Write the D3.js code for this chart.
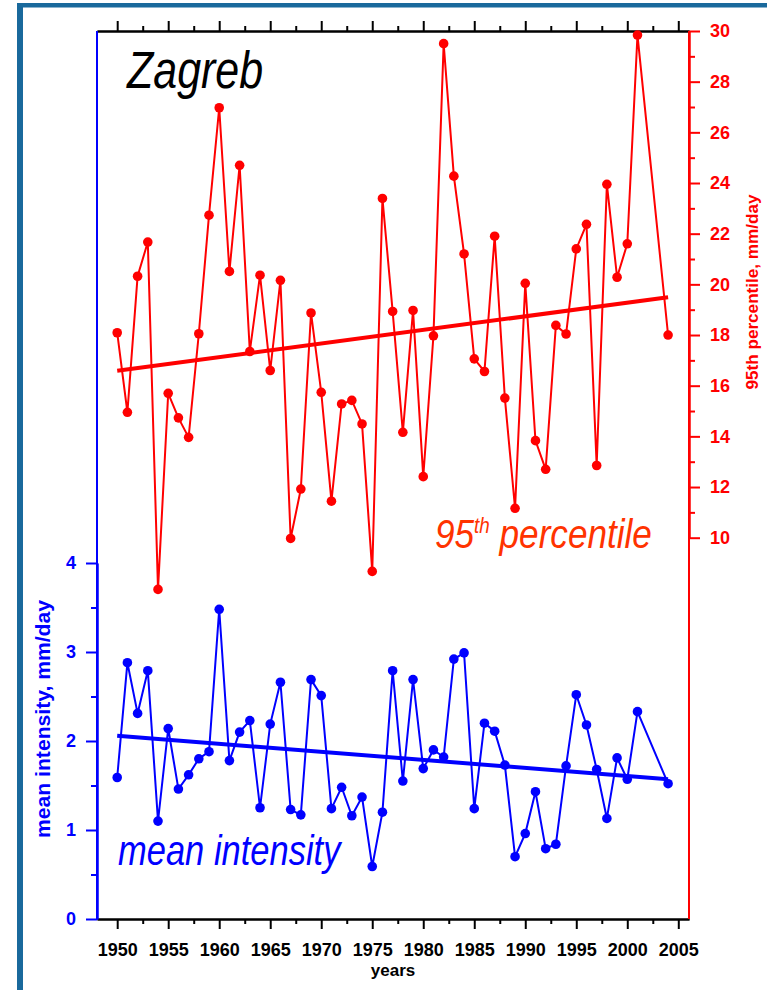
<!DOCTYPE html>
<meta charset="utf-8">
<style>
body { margin: 0; background: #fff; }
svg { display: block; font-family: "Liberation Sans", Arial, Helvetica, sans-serif; }
.tick text { font-weight: bold; font-size: 18px; }
</style>
<svg width="767" height="990"></svg>
<script src="https://d3js.org/d3.v7.min.js"></script>
<script>

// data (Zagreb, 1950-2004; 2002 and 2003 missing)
var years = [1950, 1951, 1952, 1953, 1954, 1955, 1956, 1957, 1958, 1959,
             1960, 1961, 1962, 1963, 1964, 1965, 1966, 1967, 1968, 1969,
             1970, 1971, 1972, 1973, 1974, 1975, 1976, 1977, 1978, 1979,
             1980, 1981, 1982, 1983, 1984, 1985, 1986, 1987, 1988, 1989,
             1990, 1991, 1992, 1993, 1994, 1995, 1996, 1997, 1998, 1999,
             2000, 2001, 2004];

var p95 = [18.09, 14.95, 20.32, 21.67, 7.96, 15.70, 14.73, 13.96, 18.05, 22.73,
           26.97, 20.51, 24.70, 17.35, 20.36, 16.60, 20.16, 9.97, 11.92, 18.87,
           15.74, 11.44, 15.28, 15.42, 14.49, 8.67, 23.39, 18.93, 14.16, 18.97,
           12.41, 17.97, 29.50, 24.27, 21.20, 17.06, 16.56, 21.90, 15.51, 11.16,
           20.04, 13.83, 12.70, 18.38, 18.04, 21.40, 22.37, 12.85, 23.95, 20.28,
           21.60, 29.84, 18.00];

var meanInt = [1.59, 2.88, 2.31, 2.79, 1.10, 2.14, 1.46, 1.62, 1.80, 1.88,
               3.48, 1.78, 2.10, 2.23, 1.25, 2.19, 2.66, 1.23, 1.17, 2.69,
               2.51, 1.24, 1.48, 1.16, 1.37, 0.59, 1.20, 2.79, 1.55, 2.69,
               1.69, 1.90, 1.82, 2.92, 2.99, 1.24, 2.20, 2.11, 1.73, 0.70,
               0.96, 1.43, 0.79, 0.84, 1.72, 2.52, 2.18, 1.68, 1.13, 1.81,
               1.57, 2.33, 1.52];

// linear trend end points
var trendYears = [1950, 2004];
var p95Trend = [16.59, 19.49];
var meanTrend = [2.06, 1.57];

// tick labels
var yearTicks = [1950, 1955, 1960, 1965, 1970, 1975, 1980, 1985, 1990, 1995, 2000, 2005];
var yearMinor = [1952.5, 1957.5, 1962.5, 1967.5, 1972.5, 1977.5, 1982.5, 1987.5, 1992.5, 1997.5, 2002.5];
var meanTicks = [0, 1, 2, 3, 4];
var meanMinor = [0.5, 1.5, 2.5, 3.5];
var p95Ticks = [10, 12, 14, 16, 18, 20, 22, 24, 26, 28, 30];
var p95Minor = [11, 13, 15, 17, 19, 21, 23, 25, 27, 29];

var svg = d3.select("svg"),
    plotLeft = 97, plotRight = 689, plotTop = 31, plotBottom = 919;

var blue = "#0000ff", red = "#ff0000";

// frame
svg.append("rect").attr("x", 17).attr("y", 3).attr("width", 6).attr("height", 987).attr("fill", "#19699c");
svg.append("rect").attr("x", 17).attr("y", 3).attr("width", 750).attr("height", 4.5).attr("fill", "#19699c");

var x = d3.scaleLinear().domain([1948.02, 2006.05]).range([plotLeft, plotRight]);
var yMean = d3.scaleLinear().domain([0, 4]).range([plotBottom, 563]);
var yP95 = d3.scaleLinear().domain([10, 30]).range([537.7, plotTop]);

function styleAxis(g, color) {
  g.select(".domain").attr("stroke", color).attr("stroke-width", 2);
  g.selectAll(".tick line").attr("stroke", color).attr("stroke-width", 2);
  g.selectAll(".tick text").attr("fill", color);
}

// bottom axis
var gb = svg.append("g").attr("transform", "translate(0," + plotBottom + ")")
    .call(d3.axisBottom(x).tickValues(yearTicks).tickFormat(d3.format("d")).tickSize(10).tickPadding(14).tickSizeOuter(0));
styleAxis(gb, "#000");
var gbm = svg.append("g").attr("transform", "translate(0," + plotBottom + ")")
    .call(d3.axisBottom(x).tickValues(yearMinor).tickFormat("").tickSize(5).tickSizeOuter(0));
styleAxis(gbm, "#000");

// top axis (ticks only)
var gt = svg.append("g").attr("transform", "translate(0," + plotTop + ")")
    .call(d3.axisTop(x).tickValues(yearTicks).tickFormat("").tickSize(10).tickSizeOuter(0));
styleAxis(gt, "#000");
var gtm = svg.append("g").attr("transform", "translate(0," + plotTop + ")")
    .call(d3.axisTop(x).tickValues(yearMinor).tickFormat("").tickSize(5).tickSizeOuter(0));
styleAxis(gtm, "#000");

// left axis (mean intensity), line runs full height
svg.append("line").attr("x1", plotLeft).attr("x2", plotLeft).attr("y1", plotTop).attr("y2", plotBottom)
    .attr("stroke", blue).attr("stroke-width", 2);
var gl = svg.append("g").attr("transform", "translate(" + plotLeft + ",0)")
    .call(d3.axisLeft(yMean).tickValues(meanTicks).tickFormat(d3.format("d")).tickSize(11).tickPadding(10).tickSizeOuter(0));
styleAxis(gl, blue);
var glm = svg.append("g").attr("transform", "translate(" + plotLeft + ",0)")
    .call(d3.axisLeft(yMean).tickValues(meanMinor).tickFormat("").tickSize(6).tickSizeOuter(0));
styleAxis(glm, blue);

// right axis (95th percentile), line runs full height
svg.append("line").attr("x1", plotRight).attr("x2", plotRight).attr("y1", plotTop).attr("y2", plotBottom)
    .attr("stroke", red).attr("stroke-width", 2);
var gr = svg.append("g").attr("transform", "translate(" + plotRight + ",0)")
    .call(d3.axisRight(yP95).tickValues(p95Ticks).tickFormat(d3.format("d")).tickSize(11).tickPadding(10).tickSizeOuter(0));
styleAxis(gr, red);
var grm = svg.append("g").attr("transform", "translate(" + plotRight + ",0)")
    .call(d3.axisRight(yP95).tickValues(p95Minor).tickFormat("").tickSize(6).tickSizeOuter(0));
styleAxis(grm, red);

// axis titles
svg.append("text")
    .attr("transform", "translate(43,719) rotate(-90)")
    .attr("text-anchor", "middle").attr("dominant-baseline", "central")
    .attr("fill", blue).attr("font-weight", "bold").attr("font-size", 20)
    .attr("textLength", 238).attr("lengthAdjust", "spacingAndGlyphs")
    .text("mean intensity, mm/day");
svg.append("text")
    .attr("transform", "translate(752,292) rotate(-90)")
    .attr("text-anchor", "middle").attr("dominant-baseline", "central")
    .attr("fill", red).attr("font-weight", "bold").attr("font-size", 17)
    .attr("textLength", 195).attr("lengthAdjust", "spacingAndGlyphs")
    .text("95th percentile, mm/day");
svg.append("text")
    .attr("x", (plotLeft + plotRight) / 2).attr("y", 976)
    .attr("text-anchor", "middle").attr("font-weight", "bold").attr("font-size", 17)
    .text("years");

// series
function drawSeries(values, yScale, trend, color) {
  var pts = years.map(function(d, i) { return [x(d), yScale(values[i])]; });
  svg.append("path")
      .attr("d", d3.line()(pts))
      .attr("fill", "none").attr("stroke", color).attr("stroke-width", 2);
  svg.append("path")
      .attr("d", d3.line()(trendYears.map(function(d, i) { return [x(d), yScale(trend[i])]; })))
      .attr("fill", "none").attr("stroke", color).attr("stroke-width", 4);
  svg.append("g").selectAll("circle")
    .data(pts)
    .enter().append("circle")
      .attr("cx", function(d) { return d[0]; })
      .attr("cy", function(d) { return d[1]; })
      .attr("r", 4.8)
      .attr("fill", color);
}

drawSeries(p95, yP95, p95Trend, red);
drawSeries(meanInt, yMean, meanTrend, blue);

// in-plot labels, squeezed horizontally to the condensed look of the original
function fitLabel(px, py, width, build) {
  var g = svg.append("g");
  var t = g.append("text").attr("font-style", "italic");
  build(t);
  var w = t.node().getBBox().width;
  g.attr("transform", "translate(" + px + "," + py + ") scale(" + (width / w) + ",1)");
}

fitLabel(127, 88, 137, function(t) {
  t.attr("font-size", 51).attr("fill", "#000").text("Zagreb");
});
fitLabel(435, 548, 217, function(t) {
  t.attr("font-size", 41).attr("fill", "#ff3300");
  t.append("tspan").text("95");
  t.append("tspan").attr("font-size", 22).attr("dy", -15).text("th");
  t.append("tspan").attr("dy", 15).text(" percentile");
});
fitLabel(118, 865, 225, function(t) {
  t.attr("font-size", 42).attr("fill", blue).text("mean intensity");
});

</script>
